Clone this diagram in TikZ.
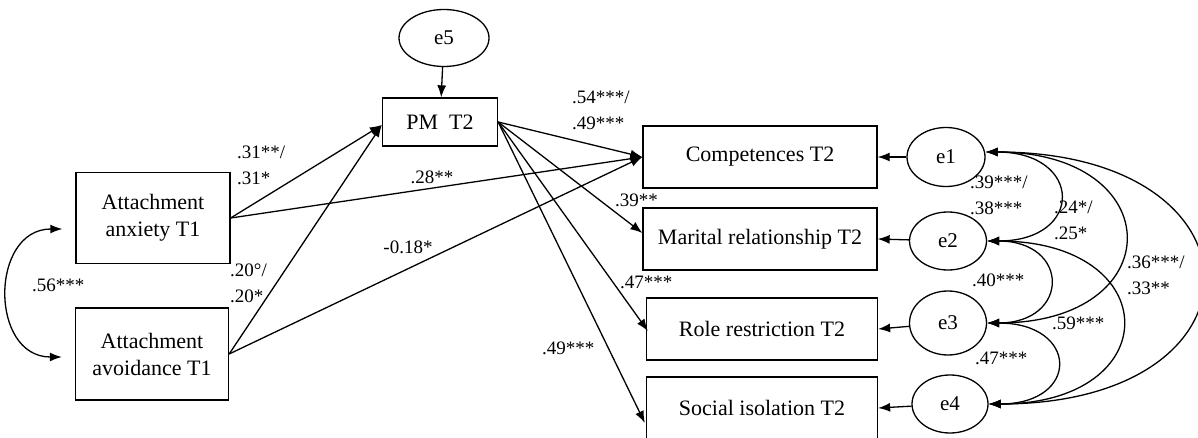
\documentclass[tikz,border=0pt]{standalone}
\usepackage{fontspec}
\setmainfont{Liberation Serif}
\usetikzlibrary{positioning,shapes.geometric,arrows.meta,calc}

\begin{document}
\begin{tikzpicture}[x=1pt, y=-1pt]

% Styles
\tikzset{
    boxstyle/.style={rectangle, draw, line width=1.3pt, inner sep=0pt, align=center, font=\fontsize{22}{27}\selectfont},
    errstyle/.style={ellipse, draw, line width=1.3pt, inner sep=0pt, font=\fontsize{21}{23}\selectfont},
    coef/.style={inner sep=0pt, align=left, font=\fontsize{19}{26}\selectfont},
    arrow/.style={-{Latex[length=12pt,width=9pt]}, line width=1.3pt},
    covarrow/.style={{Latex[length=12pt,width=9pt]}-{Latex[length=12pt,width=9pt]}, line width=1.3pt}
}

\useasboundingbox (0,0) rectangle (1198,438);

% Predictors
\node[boxstyle, minimum width=154pt, minimum height=91pt] (anx) at (153,218) {Attachment\\anxiety T1};
\node[boxstyle, minimum width=153pt, minimum height=92pt] (avd) at (152,354) {Attachment\\avoidance T1};

% Mediator
\node[boxstyle, minimum width=115pt, minimum height=48pt] (pm) at (440,122) {PM\ \ T2};
\node[errstyle, minimum width=90pt, minimum height=57pt] (e5) at (444,38) {e5};

% Outcomes
\node[boxstyle, minimum width=234pt, minimum height=62pt] (comp) at (760,157) {Competences T2};
\node[boxstyle, minimum width=234pt, minimum height=62pt] (mar) at (760,239) {Marital relationship T2};
\node[boxstyle, minimum width=231pt, minimum height=62pt] (role) at (762,329) {Role restriction T2};
\node[boxstyle, minimum width=231pt, minimum height=62pt] (soc) at (762,408) {Social isolation T2};

% Residuals
\node[errstyle, minimum width=78pt, minimum height=59pt] (e1) at (946,157) {e1};
\node[errstyle, minimum width=77pt, minimum height=58pt] (e2) at (948,241) {e2};
\node[errstyle, minimum width=77pt, minimum height=64pt] (e3) at (948,323) {e3};
\node[errstyle, minimum width=76pt, minimum height=58pt] (e4) at (950,404) {e4};

% Left covariance
\coordinate (anxL) at ([shift={(-13,11)}]anx.west);
\coordinate (avdL) at ([shift={(-13,3)}]avd.west);
\draw[covarrow] (anxL) to[out=180, in=180, looseness=1.45] (avdL);
\node[coef, anchor=west] (c56) at (32,285) {.56***};

% Paths
\draw[arrow] (e5) -- (pm);
\draw[arrow] (anx.east) -- ([yshift=-3pt]pm.west);
\draw[arrow] (avd.east) -- ([yshift=-3pt]pm.west);
\draw[arrow] (anx.east) -- (comp.west);
\draw[arrow] (avd.east) -- (comp.west);
\draw[arrow] (pm.east) -- (comp.west);
\draw[arrow] (pm.east) -- ([yshift=6pt]mar.west);
\draw[arrow] (pm.east) -- ([shift={(2,2)}]role.west);
\draw[arrow] (pm.east) -- ([shift={(-1,15)}]soc.west);

\foreach \e/\b in {e1/comp, e2/mar, e3/role, e4/soc} {
    \draw[arrow] (\e) -- (\b.east);
}

% Residual covariances
\draw[covarrow] ([yshift=5pt]e1.east) to[out=0, in=0, looseness=2.8] (e2.east);
\draw[covarrow] ([yshift=5pt]e1.east) to[out=0, in=0, looseness=2.75] (e3.east);
\draw[covarrow] ([yshift=5pt]e1.east) to[out=0, in=0, looseness=2.9] (e4.east);
\draw[covarrow] (e2.east) to[out=0, in=0, looseness=2.6] (e3.east);
\draw[covarrow] (e2.east) to[out=0, in=0, looseness=2.8] (e4.east);
\draw[covarrow] (e3.east) to[out=0, in=0, looseness=2.9] (e4.east);

% Coefficients
\node[coef, anchor=west] (c31) at (237,165) {.31**/\\.31*};
\node[coef, anchor=west] (c20) at (230,283) {.20°/\\.20*};
\node[coef] (c28) at (432,177) {.28**};
\node[coef] (c18) at (408,247) {-0.18*};
\node[coef, anchor=west] (c54) at (572,110) {.54***/\\.49***};
\node[coef, anchor=west] (c39) at (615,200) {.39**};
\node[coef, anchor=west] (c47) at (620,282) {.47***};
\node[coef, anchor=west] (c49) at (542,348) {.49***};
\node[coef, anchor=west] (c3938) at (970,195) {.39***/\\.38***};
\node[coef, anchor=west] (c24) at (1054,220) {.24*/\\.25*};
\node[coef, anchor=west] (c36) at (1127,275) {.36***/\\.33**};
\node[coef, anchor=west] (c40) at (972,280) {.40***};
\node[coef, anchor=west] (c59) at (1052,323) {.59***};
\node[coef, anchor=west] (c4747) at (975,358) {.47***};

\end{tikzpicture}
\end{document}
